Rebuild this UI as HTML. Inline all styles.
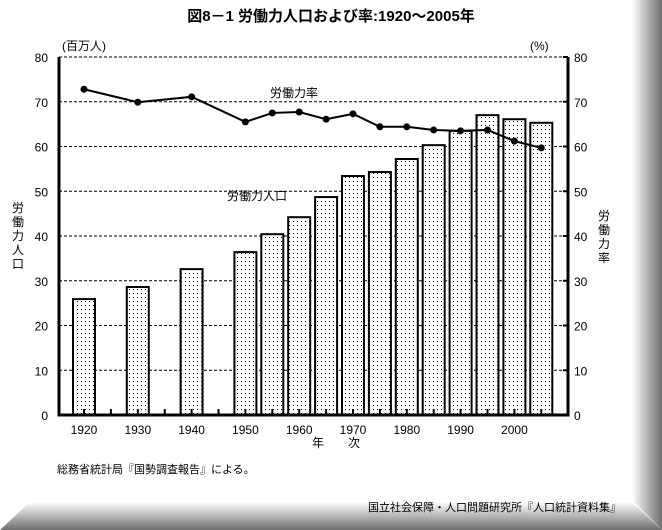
<!DOCTYPE html>
<html><head><meta charset="utf-8"><style>
html,body{margin:0;padding:0;background:#fff}
svg{display:block;font-family:"Liberation Sans","Noto Sans CJK JP",sans-serif}
</style></head><body>
<svg id="chart" width="662" height="530" viewBox="0 0 662 530">
<defs>
<linearGradient id="gb" x1="0" y1="0" x2="0" y2="1"><stop offset="0" stop-color="#fff"/><stop offset="1" stop-color="#6e6e6e"/></linearGradient>
<linearGradient id="gr" x1="0" y1="0" x2="1" y2="0"><stop offset="0" stop-color="#fff"/><stop offset="1" stop-color="#6e6e6e"/></linearGradient>
<pattern id="dots" width="4" height="4" patternUnits="userSpaceOnUse"><rect width="4" height="4" fill="#fff"/><rect x="1" y="1" width="1" height="1" fill="#000"/></pattern>
</defs>
<polygon points="632,0 662,0 662,530 632,500" fill="url(#gr)"/>
<polygon points="0,530 30,502 632,502 662,530" fill="url(#gb)"/>
<text x="331" y="21" font-size="15" font-weight="bold" text-anchor="middle">図8－1 労働力人口および率:1920～2005年</text>
<text x="62" y="50" font-size="12">(百万人)</text>
<text x="530" y="50" font-size="12">(%)</text>
<g id="grid"></g><g id="bars"></g><g id="axes"></g><g id="line"></g>
<text x="270" y="97" font-size="12">労働力率</text>
<text x="227" y="200" font-size="12">労働力人口</text>
<text font-size="12"><tspan x="12" y="212">労</tspan><tspan x="12" y="226">働</tspan><tspan x="12" y="240">力</tspan><tspan x="12" y="254">人</tspan><tspan x="12" y="268">口</tspan></text>
<text font-size="12"><tspan x="598" y="220">労</tspan><tspan x="598" y="234">働</tspan><tspan x="598" y="248">力</tspan><tspan x="598" y="262">率</tspan></text>
<text x="312" y="447" font-size="12">年　　次</text>
<text x="57" y="473" font-size="11">総務省統計局『国勢調査報告』による。</text>
<text x="368" y="511" font-size="11">国立社会保障・人口問題研究所『人口統計資料集』</text>
</svg>
<script>
const years=[1920,1930,1940,1950,1955,1960,1965,1970,1975,1980,1985,1990,1995,2000,2005];
const population=[25.9,28.6,32.6,36.4,40.4,44.2,48.7,53.4,54.3,57.2,60.3,63.5,67.0,66.1,65.3];
const rate=[72.8,69.9,71.1,65.5,67.5,67.7,66.1,67.3,64.4,64.4,63.7,63.5,63.7,61.2,59.7];
const yTicks=[0,10,20,30,40,50,60,70,80];
const xLabels=[1920,1930,1940,1950,1960,1970,1980,1990,2000];
const NS='http://www.w3.org/2000/svg';
const X0=59,X1=568,Y0=415,Y1=57;
const x=v=>84+(v-1920)/5*26.9;
const y=v=>Y0-(v/80)*(Y0-Y1);
function mk(tag,attrs,parent){const e=document.createElementNS(NS,tag);for(const k in attrs)e.setAttribute(k,attrs[k]);document.getElementById(parent).appendChild(e);return e;}
yTicks.forEach(t=>{
 if(t>0){const g=mk('line',{x1:X0,x2:X1-5,y1:y(t),y2:y(t),stroke:'#000','stroke-width':1,'stroke-dasharray':'3,2'},'grid');
 
 }
 const l=mk('text',{x:48,y:y(t)+5,'font-size':12,'text-anchor':'end'},'axes');l.textContent=t;
 
 
 const r=mk('text',{x:574,y:y(t)+5,'font-size':12},'axes');r.textContent=t;
 
 
 const tk=mk('line',{x1:X1-5,x2:X1,y1:y(t),y2:y(t),stroke:'#000','stroke-width':2},'axes');
 
 
});
years.forEach((yr,i)=>{
 const b=mk('rect',{x:x(yr)-11,y:y(population[i]),width:22,height:Y0-y(population[i]),fill:'url(#dots)',stroke:'#000','stroke-width':2},'bars');
 
 
});
for(let yr=1920;yr<=2005;yr+=5){const t=mk('line',{x1:x(yr),x2:x(yr),y1:Y0,y2:Y0-6,stroke:'#000','stroke-width':2},'axes');
 
 }
xLabels.forEach(yr=>{const t=mk('text',{x:x(yr),y:434,'font-size':12,'text-anchor':'middle'},'axes');t.textContent=yr;
 
 });
const ax=mk('path',{d:`M${X0},${Y1} V${Y0} H${X1} V${Y1}`,fill:'none',stroke:'#000','stroke-width':3},'axes');


const pl=mk('polyline',{points:years.map((yr,i)=>x(yr)+','+y(rate[i])).join(' '),fill:'none',stroke:'#000','stroke-width':2},'line');


years.forEach((yr,i)=>{const c=mk('circle',{cx:x(yr),cy:y(rate[i]),r:3.5,fill:'#000'},'line');
 
 });
</script>
</body></html>
